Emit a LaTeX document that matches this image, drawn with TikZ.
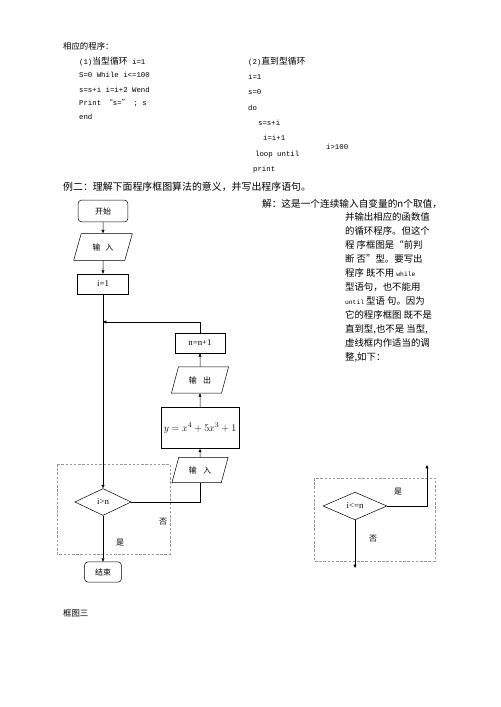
\documentclass[tikz,border=0pt]{standalone}
\usepackage{fontspec}
\setmainfont{Liberation Serif}
\setmonofont{Liberation Mono}
\newfontfamily\cjk{Noto Sans CJK SC}
\usepackage{tikz}
\usetikzlibrary{positioning,arrows.meta,shapes.geometric}

\begin{document}
\begin{tikzpicture}[
    x=1.19pt, y=-1.19pt,
    base_box/.style={draw, line width=0.6pt, inner sep=0pt, text centered},
    term_box/.style={base_box, rounded corners=4pt, font=\cjk\fontsize{9.5}{10}\selectfont},
    io_box/.style={base_box, trapezium, trapezium left angle=64, trapezium right angle=116, trapezium stretches=true, font=\cjk\fontsize{9.5}{10}\selectfont},
    proc_box/.style={base_box, rectangle, font=\fontsize{10.5}{12}\selectfont},
    dec_box/.style={base_box, diamond, font=\fontsize{10.5}{12}\selectfont},
    dash_box/.style={draw=gray!80, densely dashed, line width=0.5pt},
    arrow/.style={-{Triangle[length=4pt,width=3.5pt]}, line width=0.6pt},
    link/.style={line width=0.6pt},
    zh/.style={anchor=west, inner sep=0pt, font=\cjk\fontsize{11.2}{14}\selectfont},
    code/.style={anchor=west, inner sep=0pt, font=\ttfamily\fontsize{8.75}{10}\selectfont},
    mark_txt/.style={inner sep=0pt, font=\cjk\fontsize{9.5}{10}\selectfont}
]
\useasboundingbox (0,0) rectangle (500,707);

% Programs
\node[zh, font=\cjk\fontsize{10}{12}\selectfont] (title) at (63,46) {相应的程序：};

\node[code] (p1a) at (79,62) {(1){\cjk\fontsize{10.5}{12}\selectfont 当型循环} i=1};
\node[code] (p1b) at (79,75) {S=0 While i<=100};
\node[code] (p1c) at (79,90) {s=s+i i=i+2 Wend};
\node[code] (p1d) at (79,103) {Print {\cjk “}s={\cjk ”} ; s};
\node[code] (p1e) at (79,117) {end};

\node[code] (p2a) at (248,62) {(2){\cjk\fontsize{10.5}{12}\selectfont 直到型循环}};
\node[code] (p2b) at (248,77) {i=1};
\node[code] (p2c) at (248,92) {s=0};
\node[code] (p2d) at (248,108) {do};
\node[code] (p2e) at (258,123) {s=s+i};
\node[code] (p2f) at (263,138) {i=i+1};
\node[code] (p2g) at (255,155) {loop until};
\node[code] (p2h) at (326,147) {i>100};
\node[code] (p2i) at (253,170) {print};

% Question and answer
\node[zh, font=\cjk\fontsize{11.8}{14}\selectfont] (ex) at (63,187) {例二：理解下面程序框图算法的意义，并写出程序语句。};
\node[zh, font=\cjk\fontsize{11.5}{14}\selectfont] (sol) at (262,204) {解：这是一个连续输入自变量的n个取值，};
\foreach \t [count=\i from 0] in {并输出相应的函数值,
    的循环程序。但这个,
    程 序框图是“前判,
    断 否”型。要写出,
    程序 既不用 {\ttfamily\fontsize{7.5}{9}\selectfont while},
    型语句，也不能用,
    {\ttfamily\fontsize{7.5}{9}\selectfont until} 型语 句。因为,
    它的程序框图 既不是,
    {直到型,也不是 当型,},
    虚线框内作适当的调,
    {整,如下：}}
  \node[zh] (sol_\i) at (345,217+14*\i) {\t};

% Flowchart one
\draw[dash_box] (57,464) rectangle (170,554);

\node[term_box, minimum width=59pt, minimum height=26pt] (start) at (103,211) {开始};
\node[io_box, minimum width=70pt, minimum height=32pt] (in1) at (103,247) {输\hspace{0.6em}入};
\node[proc_box, minimum width=61pt, minimum height=24pt] (init) at (103,284) {i=1};
\node[dec_box, minimum width=67pt, minimum height=32pt] (cond) at (103,502) {i>n};
\node[term_box, minimum width=44pt, minimum height=24pt] (stop) at (103,572) {结束};

\node[proc_box, minimum width=59.5pt, minimum height=24pt] (inc) at (200,343) {n=n+1};
\node[io_box, minimum width=68pt, minimum height=31pt] (out) at (200,380) {输\hspace{0.8em}出};
\node[proc_box, minimum width=93pt, minimum height=49pt, font=\fontsize{12.5}{14}\selectfont] (calc) at (200,428) {$y=x^4+5x^3+1$};
\node[io_box, minimum width=67pt, minimum height=30pt] (in2) at (200,470) {输\hspace{0.8em}入};

\coordinate (join) at (103,322);

\draw[arrow] (start) -- (in1);
\draw[arrow] (in1) -- (init);
\draw[arrow] (init) -- (cond);
\draw[arrow] (inc.north) |- (join);
\draw[arrow] (in2) -- (calc);
\draw[arrow] (calc) -- (out);
\draw[arrow] (out) -- (inc);
\draw[link] (cond.east) -| (in2.south);
\draw[arrow] (cond) -- (stop);

\node[mark_txt] (no1) at (163,522) {否};
\node[mark_txt] (yes1) at (120,543) {是};

% Flowchart two
\draw[dash_box] (314,478) rectangle (435,561);
\node[dec_box, minimum width=76pt, minimum height=33pt] (cond2) at (355,506) {i<=n};
\coordinate (up) at (427,465);
\coordinate (down) at (355,568);
\draw[arrow] (cond2.east) -| (up);
\draw[arrow] (cond2.south) -- (down);
\node[mark_txt] (yes2) at (398,492) {是};
\node[mark_txt] (no2) at (373,539) {否};

\node[zh, font=\cjk\fontsize{10}{12}\selectfont] (cap) at (63,613) {框图三};

\end{tikzpicture}
\end{document}
